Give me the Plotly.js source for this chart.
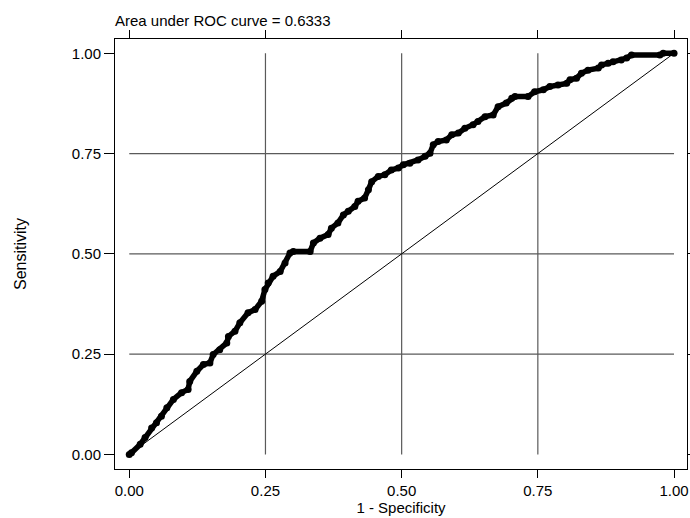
<!DOCTYPE html>
<html>
<head>
<meta charset="utf-8">
<script src="https://cdn.plot.ly/plotly-3.0.1.min.js"></script>
<style>html,body{margin:0;padding:0;background:#fff;}#chart{width:690px;height:518px;}</style>
</head>
<body>
<div id="chart"></div>
<script>
// ROC curve points: 1 - Specificity (x) and Sensitivity (y)
var fpr = [0, 0.004, 0.020, 0.029, 0.041, 0.050, 0.059, 0.069, 0.081, 0.096, 0.108, 0.111, 0.124, 0.136, 0.148, 0.154, 0.166, 0.179, 0.182, 0.194,
  0.203, 0.218, 0.231, 0.243, 0.249, 0.255, 0.264, 0.277, 0.286, 0.295, 0.301, 0.332, 0.338, 0.350, 0.365, 0.371, 0.383, 0.393, 0.402, 0.414,
  0.420, 0.432, 0.439, 0.445, 0.457, 0.469, 0.481, 0.494, 0.503, 0.515, 0.530, 0.543, 0.552, 0.558, 0.567, 0.582, 0.592, 0.604, 0.616, 0.631,
  0.640, 0.653, 0.668, 0.677, 0.692, 0.702, 0.708, 0.732, 0.744, 0.760, 0.772, 0.787, 0.803, 0.809, 0.821, 0.830, 0.842, 0.861, 0.867, 0.879,
  0.888, 0.903, 0.913, 0.922, 0.974, 0.980, 1.0];
var tpr = [0, 0.004, 0.025, 0.042, 0.066, 0.079, 0.095, 0.116, 0.137, 0.154, 0.162, 0.182, 0.207, 0.224, 0.228, 0.249, 0.261, 0.278, 0.294, 0.307,
  0.328, 0.353, 0.361, 0.382, 0.411, 0.427, 0.444, 0.456, 0.477, 0.502, 0.506, 0.506, 0.527, 0.539, 0.548, 0.564, 0.577, 0.597, 0.606, 0.618,
  0.631, 0.639, 0.660, 0.680, 0.693, 0.697, 0.709, 0.714, 0.722, 0.726, 0.734, 0.743, 0.751, 0.772, 0.780, 0.784, 0.797, 0.801, 0.813, 0.822,
  0.830, 0.842, 0.846, 0.867, 0.876, 0.888, 0.892, 0.892, 0.904, 0.909, 0.917, 0.921, 0.925, 0.934, 0.938, 0.950, 0.958, 0.963, 0.971, 0.975,
  0.979, 0.983, 0.988, 0.996, 0.996, 1.0, 1.0];
// Reference (chance) line
var refX = [0, 1];
var refY = [0, 1];
var tickVals = [0, 0.25, 0.5, 0.75, 1];
var tickText = ["0.00", "0.25", "0.50", "0.75", "1.00"];
var gridVals = [0.25, 0.5, 0.75];
var titleText = "Area under ROC curve = 0.6333";
var xTitle = "1 - Specificity";
var yTitle = "Sensitivity";

var FONT = "Liberation Sans, Arial, sans-serif";

var shapes = [];
gridVals.forEach(function (v) {
  shapes.push({type: "line", xref: "x", yref: "y", x0: v, x1: v, y0: 0, y1: 1,
    line: {color: "#5a5a5a", width: 1.2}, layer: "below"});
  shapes.push({type: "line", xref: "x", yref: "y", x0: 0, x1: 1, y0: v, y1: v,
    line: {color: "#5a5a5a", width: 1.2}, layer: "below"});
});

var traces = [
  {x: refX, y: refY, mode: "lines", line: {color: "#000", width: 1}, hoverinfo: "skip", showlegend: false},
  {x: fpr, y: tpr, mode: "lines+markers", line: {color: "#000", width: 5.5},
   marker: {color: "#000", size: 7, symbol: "circle"}, showlegend: false}
];

var axisCommon = {
  showgrid: false, zeroline: false, showline: true, linecolor: "#000", linewidth: 1,
  mirror: "ticks", ticks: "outside", tickcolor: "#000", tickwidth: 1,
  tickvals: tickVals, ticktext: tickText,
  tickfont: {family: FONT, size: 15, color: "#000"}
};

var layout = {
  width: 690, height: 518,
  margin: {l: 115, r: 3, t: 38.5, b: 49, pad: 0},
  paper_bgcolor: "#fff", plot_bgcolor: "#fff",
  font: {family: FONT, color: "#000"},
  title: {text: titleText, font: {family: FONT, size: 15, color: "#000"},
    xref: "paper", x: 0, xanchor: "left", yref: "container", y: 1 - 21 / 518, yanchor: "middle"},
  xaxis: Object.assign({}, axisCommon, {range: [-0.0262, 1.0238], ticklen: 8,
    title: {text: xTitle, font: {family: FONT, size: 15, color: "#000"}, standoff: 1}}),
  yaxis: Object.assign({}, axisCommon, {range: [-0.0364, 1.0356], ticklen: 10,
    title: {text: yTitle, font: {family: FONT, size: 16, color: "#000"}, standoff: 41}}),
  shapes: shapes
};

Plotly.newPlot("chart", traces, layout, {displayModeBar: false, staticPlot: true});
</script>
</body>
</html>
